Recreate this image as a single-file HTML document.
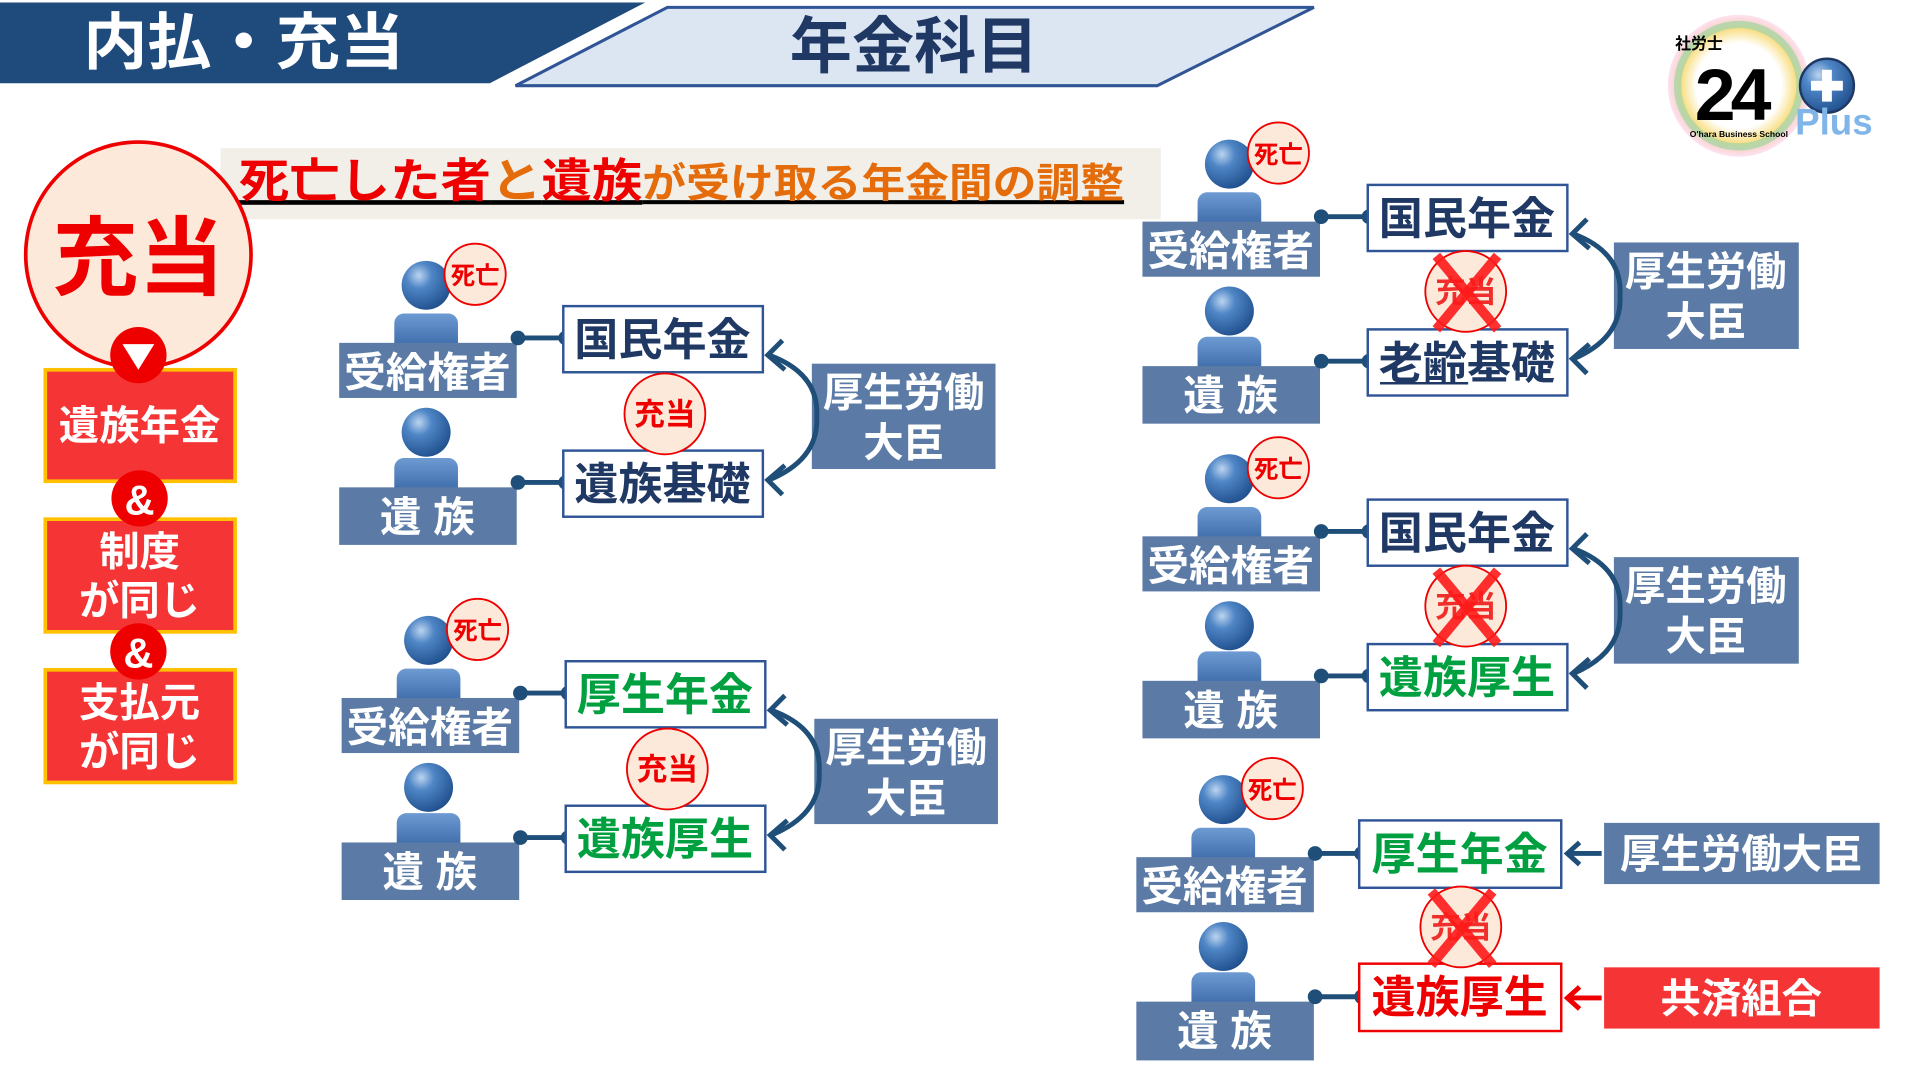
<!DOCTYPE html>
<html><head><meta charset="utf-8"><style>
html,body{margin:0;padding:0;background:#fff;width:1920px;height:1080px;overflow:hidden}
#c{position:absolute;left:0;top:0;width:1568px;height:882px;transform:scale(1.2245);transform-origin:0 0}
svg text{font-family:"Liberation Sans","Noto Sans CJK JP",sans-serif;font-weight:bold}
</style></head><body><div id="c">
<svg width="1568" height="882" viewBox="0 0 1568 882" xmlns="http://www.w3.org/2000/svg">
<defs>
<radialGradient id="hg" cx="0.35" cy="0.3" r="0.75"><stop offset="0" stop-color="#bcd4f0"/><stop offset="0.35" stop-color="#4f86c6"/><stop offset="1" stop-color="#1f4e8c"/></radialGradient>
<linearGradient id="bg" x1="0" y1="0" x2="0" y2="1"><stop offset="0" stop-color="#6f9bd3"/><stop offset="1" stop-color="#2f5f9e"/></linearGradient>
<radialGradient id="lg" cx="0.5" cy="0.5" r="0.5"><stop offset="0.6" stop-color="#fff"/><stop offset="0.8" stop-color="#f9e08a"/><stop offset="1" stop-color="#f6a5d0" stop-opacity="0.3"/></radialGradient>
</defs>
<!-- header -->
<polygon points="0,2 527,2 400,68 0,68" fill="#1f4a7c"/>
<text x="68" y="52" font-size="50" fill="#fff" textLength="262" lengthAdjust="spacingAndGlyphs">内払・充当</text>
<polygon points="545,6 1073,6 945,70 421,70" fill="#dce6f2" stroke="#2f5597" stroke-width="2.5"/>
<text x="645" y="55" font-size="50" fill="#1f3864" textLength="203" lengthAdjust="spacingAndGlyphs">年金科目</text>
<!-- logo -->
<circle cx="1420" cy="70" r="58" fill="url(#lg)"/>
<circle cx="1420" cy="70" r="50" fill="none" stroke="#8fd3a0" stroke-width="6" opacity="0.6"/>
<text x="1368" y="40" font-size="13" fill="#000">社労士</text>
<text x="1384" y="98" font-size="60" fill="#000" letter-spacing="-4">24</text>
<circle cx="1492" cy="70" r="22" fill="url(#hg)" stroke="#1f3864" stroke-width="2"/>
<rect x="1488" y="57" width="8" height="26" fill="#fff"/><rect x="1479" y="66" width="26" height="8" fill="#fff"/>
<text x="1466" y="110" font-size="30" fill="#7fb5e8" font-weight="normal">Plus</text>
<text x="1380" y="112" font-size="7" fill="#000" font-weight="normal">O'hara Business School</text>
<!-- subtitle -->
<rect x="180" y="121" width="768" height="58" fill="#f2efe9"/>
<text x="195" y="161" font-size="38" text-decoration="underline" textLength="723" lengthAdjust="spacingAndGlyphs"><tspan fill="#ee0000">死亡した者</tspan><tspan fill="#e46c0a">と</tspan><tspan fill="#ee0000">遺族</tspan><tspan fill="#e46c0a" font-size="33">が受け取る年金間の調整</tspan></text>
<!-- left column -->
<circle cx="113" cy="208" r="92" fill="#fde9d9" stroke="#ee0000" stroke-width="3"/>
<text x="113" y="235" font-size="70" fill="#ee0000" text-anchor="middle">充当</text>
<rect x="37" y="302" width="155" height="91" fill="#f53535" stroke="#ffc000" stroke-width="3"/>
<text x="114" y="359" font-size="33" fill="#fff" text-anchor="middle">遺族年金</text>
<rect x="37" y="424" width="155" height="92" fill="#f53535" stroke="#ffc000" stroke-width="3"/>
<text x="114" y="462" font-size="33" fill="#fff" text-anchor="middle">制度</text>
<text x="114" y="502" font-size="33" fill="#fff" text-anchor="middle">が同じ</text>
<rect x="37" y="547" width="155" height="92" fill="#f53535" stroke="#ffc000" stroke-width="3"/>
<text x="114" y="585" font-size="33" fill="#fff" text-anchor="middle">支払元</text>
<text x="114" y="625" font-size="33" fill="#fff" text-anchor="middle">が同じ</text>
<circle cx="113" cy="290" r="23" fill="#ee0000"/>
<polygon points="100,281 126,281 113,302" fill="#fff"/>
<circle cx="114" cy="407" r="23" fill="#ee0000"/>
<text x="114" y="420" font-size="34" fill="#fff" text-anchor="middle">&amp;</text>
<circle cx="113" cy="532" r="23" fill="#ee0000"/>
<text x="113" y="545" font-size="34" fill="#fff" text-anchor="middle">&amp;</text>

<!-- Group 1 -->
<g transform="translate(277,250)">
<circle cx="71" cy="-17" r="20" fill="url(#hg)"/><rect x="45" y="6" width="52" height="34" rx="8" fill="url(#bg)"/>
<rect x="0" y="30" width="145" height="45" fill="#5b7ba6"/><text x="72" y="66" font-size="34" fill="#fff" text-anchor="middle">受給権者</text>
<circle cx="111" cy="-26" r="25" fill="#fde9d9" stroke="#ee0000" stroke-width="1.5"/><text x="111" y="-18" font-size="20" fill="#ee0000" text-anchor="middle">死亡</text>
<circle cx="71" cy="103" r="20" fill="url(#hg)"/><rect x="45" y="124" width="52" height="34" rx="8" fill="url(#bg)"/>
<rect x="0" y="148" width="145" height="47" fill="#5b7ba6"/><text x="72" y="184" font-size="34" fill="#fff" text-anchor="middle">遺 族</text>
<line x1="146" y1="26" x2="185" y2="26" stroke="#1f4e79" stroke-width="4"/><circle cx="146" cy="26" r="6" fill="#1f4e79"/><circle cx="185" cy="26" r="6" fill="#1f4e79"/>
<line x1="146" y1="144" x2="185" y2="144" stroke="#1f4e79" stroke-width="4"/><circle cx="146" cy="144" r="6" fill="#1f4e79"/><circle cx="185" cy="144" r="6" fill="#1f4e79"/>
<rect x="183" y="0" width="163" height="54" fill="#fff" stroke="#2f5597" stroke-width="2"/><text x="264" y="40" font-size="36" fill="#1f3864" text-anchor="middle">国民年金</text>
<rect x="183" y="118" width="163" height="54" fill="#fff" stroke="#2f5597" stroke-width="2"/><text x="264" y="158" font-size="36" fill="#1f3864" text-anchor="middle">遺族基礎</text>
<circle cx="266" cy="88" r="33" fill="#fde9d9" stroke="#ee0000" stroke-width="1.5"/><text x="266" y="97" font-size="25" fill="#ee0000" text-anchor="middle">充当</text>
<rect x="386" y="47" width="150" height="86" fill="#5b7ba6"/><text x="461" y="82" font-size="33" fill="#fff" text-anchor="middle">厚生労働</text><text x="461" y="123" font-size="33" fill="#fff" text-anchor="middle">大臣</text>
<path d="M351,40 Q392,55 390,90 Q392,125 351,142" stroke="#1f4e79" stroke-width="4" fill="none"/>
<polyline points="362,28 350,40 364,52" stroke="#1f4e79" stroke-width="4" fill="none"/><polyline points="364,130 350,142 362,154" stroke="#1f4e79" stroke-width="4" fill="none"/>
</g>

<!-- Group 2 -->
<g transform="translate(279,540)">
<circle cx="71" cy="-17" r="20" fill="url(#hg)"/><rect x="45" y="6" width="52" height="34" rx="8" fill="url(#bg)"/>
<rect x="0" y="30" width="145" height="45" fill="#5b7ba6"/><text x="72" y="66" font-size="34" fill="#fff" text-anchor="middle">受給権者</text>
<circle cx="111" cy="-26" r="25" fill="#fde9d9" stroke="#ee0000" stroke-width="1.5"/><text x="111" y="-18" font-size="20" fill="#ee0000" text-anchor="middle">死亡</text>
<circle cx="71" cy="103" r="20" fill="url(#hg)"/><rect x="45" y="124" width="52" height="34" rx="8" fill="url(#bg)"/>
<rect x="0" y="148" width="145" height="47" fill="#5b7ba6"/><text x="72" y="184" font-size="34" fill="#fff" text-anchor="middle">遺 族</text>
<line x1="146" y1="26" x2="185" y2="26" stroke="#1f4e79" stroke-width="4"/><circle cx="146" cy="26" r="6" fill="#1f4e79"/><circle cx="185" cy="26" r="6" fill="#1f4e79"/>
<line x1="146" y1="144" x2="185" y2="144" stroke="#1f4e79" stroke-width="4"/><circle cx="146" cy="144" r="6" fill="#1f4e79"/><circle cx="185" cy="144" r="6" fill="#1f4e79"/>
<rect x="183" y="0" width="163" height="54" fill="#fff" stroke="#2f5597" stroke-width="2"/><text x="264" y="40" font-size="36" fill="#00a040" text-anchor="middle">厚生年金</text>
<rect x="183" y="118" width="163" height="54" fill="#fff" stroke="#2f5597" stroke-width="2"/><text x="264" y="158" font-size="36" fill="#00a040" text-anchor="middle">遺族厚生</text>
<circle cx="266" cy="88" r="33" fill="#fde9d9" stroke="#ee0000" stroke-width="1.5"/><text x="266" y="97" font-size="25" fill="#ee0000" text-anchor="middle">充当</text>
<rect x="386" y="47" width="150" height="86" fill="#5b7ba6"/><text x="461" y="82" font-size="33" fill="#fff" text-anchor="middle">厚生労働</text><text x="461" y="123" font-size="33" fill="#fff" text-anchor="middle">大臣</text>
<path d="M351,40 Q392,55 390,90 Q392,125 351,142" stroke="#1f4e79" stroke-width="4" fill="none"/>
<polyline points="362,28 350,40 364,52" stroke="#1f4e79" stroke-width="4" fill="none"/><polyline points="364,130 350,142 362,154" stroke="#1f4e79" stroke-width="4" fill="none"/>
</g>

<!-- Group 3 -->
<g transform="translate(933,151)">
<circle cx="71" cy="-17" r="20" fill="url(#hg)"/><rect x="45" y="6" width="52" height="34" rx="8" fill="url(#bg)"/>
<rect x="0" y="30" width="145" height="45" fill="#5b7ba6"/><text x="72" y="66" font-size="34" fill="#fff" text-anchor="middle">受給権者</text>
<circle cx="111" cy="-26" r="25" fill="#fde9d9" stroke="#ee0000" stroke-width="1.5"/><text x="111" y="-18" font-size="20" fill="#ee0000" text-anchor="middle">死亡</text>
<circle cx="71" cy="103" r="20" fill="url(#hg)"/><rect x="45" y="124" width="52" height="34" rx="8" fill="url(#bg)"/>
<rect x="0" y="148" width="145" height="47" fill="#5b7ba6"/><text x="72" y="184" font-size="34" fill="#fff" text-anchor="middle">遺 族</text>
<line x1="146" y1="26" x2="185" y2="26" stroke="#1f4e79" stroke-width="4"/><circle cx="146" cy="26" r="6" fill="#1f4e79"/><circle cx="185" cy="26" r="6" fill="#1f4e79"/>
<line x1="146" y1="144" x2="185" y2="144" stroke="#1f4e79" stroke-width="4"/><circle cx="146" cy="144" r="6" fill="#1f4e79"/><circle cx="185" cy="144" r="6" fill="#1f4e79"/>
<rect x="184" y="0" width="163" height="54" fill="#fff" stroke="#2f5597" stroke-width="2"/><text x="265" y="40" font-size="36" fill="#1f3864" text-anchor="middle">国民年金</text>
<rect x="184" y="118" width="163" height="54" fill="#fff" stroke="#2f5597" stroke-width="2"/><text x="265" y="158" font-size="36" fill="#1f3864" text-anchor="middle">老齢基礎</text>
<line x1="194" y1="162" x2="266" y2="162" stroke="#1f3864" stroke-width="2"/>
<circle cx="264" cy="87" r="33" fill="#fde9d9" stroke="#ee0000" stroke-width="1.5"/><text x="264" y="96" font-size="25" fill="#ee0000" text-anchor="middle" opacity="0.8">充当</text>
<line x1="240" y1="58" x2="290" y2="118" stroke="#ff1a1a" stroke-width="8" opacity="0.9"/><line x1="290" y1="58" x2="240" y2="118" stroke="#ff1a1a" stroke-width="8" opacity="0.9"/>
<rect x="385" y="47" width="151" height="87" fill="#5b7ba6"/><text x="460" y="82" font-size="33" fill="#fff" text-anchor="middle">厚生労働</text><text x="460" y="123" font-size="33" fill="#fff" text-anchor="middle">大臣</text>
<path d="M352,40 Q392,55 390,90 Q392,125 352,142" stroke="#1f4e79" stroke-width="4" fill="none"/>
<polyline points="363,28 351,40 365,52" stroke="#1f4e79" stroke-width="4" fill="none"/><polyline points="365,130 351,142 363,154" stroke="#1f4e79" stroke-width="4" fill="none"/>
</g>

<!-- Group 4 -->
<g transform="translate(933,408)">
<circle cx="71" cy="-17" r="20" fill="url(#hg)"/><rect x="45" y="6" width="52" height="34" rx="8" fill="url(#bg)"/>
<rect x="0" y="30" width="145" height="45" fill="#5b7ba6"/><text x="72" y="66" font-size="34" fill="#fff" text-anchor="middle">受給権者</text>
<circle cx="111" cy="-26" r="25" fill="#fde9d9" stroke="#ee0000" stroke-width="1.5"/><text x="111" y="-18" font-size="20" fill="#ee0000" text-anchor="middle">死亡</text>
<circle cx="71" cy="103" r="20" fill="url(#hg)"/><rect x="45" y="124" width="52" height="34" rx="8" fill="url(#bg)"/>
<rect x="0" y="148" width="145" height="47" fill="#5b7ba6"/><text x="72" y="184" font-size="34" fill="#fff" text-anchor="middle">遺 族</text>
<line x1="146" y1="26" x2="185" y2="26" stroke="#1f4e79" stroke-width="4"/><circle cx="146" cy="26" r="6" fill="#1f4e79"/><circle cx="185" cy="26" r="6" fill="#1f4e79"/>
<line x1="146" y1="144" x2="185" y2="144" stroke="#1f4e79" stroke-width="4"/><circle cx="146" cy="144" r="6" fill="#1f4e79"/><circle cx="185" cy="144" r="6" fill="#1f4e79"/>
<rect x="184" y="0" width="163" height="54" fill="#fff" stroke="#2f5597" stroke-width="2"/><text x="265" y="40" font-size="36" fill="#1f3864" text-anchor="middle">国民年金</text>
<rect x="184" y="118" width="163" height="54" fill="#fff" stroke="#2f5597" stroke-width="2"/><text x="265" y="158" font-size="36" fill="#00a040" text-anchor="middle">遺族厚生</text>
<circle cx="264" cy="87" r="33" fill="#fde9d9" stroke="#ee0000" stroke-width="1.5"/><text x="264" y="96" font-size="25" fill="#ee0000" text-anchor="middle" opacity="0.8">充当</text>
<line x1="240" y1="58" x2="290" y2="118" stroke="#ff1a1a" stroke-width="8" opacity="0.9"/><line x1="290" y1="58" x2="240" y2="118" stroke="#ff1a1a" stroke-width="8" opacity="0.9"/>
<rect x="385" y="47" width="151" height="87" fill="#5b7ba6"/><text x="460" y="82" font-size="33" fill="#fff" text-anchor="middle">厚生労働</text><text x="460" y="123" font-size="33" fill="#fff" text-anchor="middle">大臣</text>
<path d="M352,40 Q392,55 390,90 Q392,125 352,142" stroke="#1f4e79" stroke-width="4" fill="none"/>
<polyline points="363,28 351,40 365,52" stroke="#1f4e79" stroke-width="4" fill="none"/><polyline points="365,130 351,142 363,154" stroke="#1f4e79" stroke-width="4" fill="none"/>
</g>

<!-- Group 5 -->
<g transform="translate(928,670)">
<circle cx="71" cy="-17" r="20" fill="url(#hg)"/><rect x="45" y="6" width="52" height="34" rx="8" fill="url(#bg)"/>
<rect x="0" y="30" width="145" height="45" fill="#5b7ba6"/><text x="72" y="66" font-size="34" fill="#fff" text-anchor="middle">受給権者</text>
<circle cx="111" cy="-26" r="25" fill="#fde9d9" stroke="#ee0000" stroke-width="1.5"/><text x="111" y="-18" font-size="20" fill="#ee0000" text-anchor="middle">死亡</text>
<circle cx="71" cy="103" r="20" fill="url(#hg)"/><rect x="45" y="124" width="52" height="34" rx="8" fill="url(#bg)"/>
<rect x="0" y="148" width="145" height="48" fill="#5b7ba6"/><text x="72" y="184" font-size="34" fill="#fff" text-anchor="middle">遺 族</text>
<line x1="146" y1="27" x2="184" y2="27" stroke="#1f4e79" stroke-width="4"/><circle cx="146" cy="27" r="6" fill="#1f4e79"/><circle cx="184" cy="27" r="6" fill="#1f4e79"/>
<line x1="146" y1="144" x2="184" y2="144" stroke="#1f4e79" stroke-width="4"/><circle cx="146" cy="144" r="6" fill="#1f4e79"/><circle cx="184" cy="144" r="6" fill="#1f4e79"/>
<rect x="182" y="0" width="165" height="55" fill="#fff" stroke="#2f5597" stroke-width="2"/><text x="264" y="40" font-size="36" fill="#00a040" text-anchor="middle">厚生年金</text>
<rect x="182" y="117" width="165" height="55" fill="#fff" stroke="#ee0000" stroke-width="2"/><text x="264" y="157" font-size="36" fill="#ee0000" text-anchor="middle">遺族厚生</text>
<circle cx="265" cy="87" r="33" fill="#fde9d9" stroke="#ee0000" stroke-width="1.5"/><text x="265" y="96" font-size="25" fill="#ee0000" text-anchor="middle" opacity="0.8">充当</text>
<line x1="241" y1="58" x2="291" y2="118" stroke="#ff1a1a" stroke-width="8" opacity="0.9"/><line x1="291" y1="58" x2="241" y2="118" stroke="#ff1a1a" stroke-width="8" opacity="0.9"/>
</g>
<rect x="1310" y="672" width="225" height="50" fill="#5b7ba6"/><text x="1422" y="709" font-size="33" fill="#fff" text-anchor="middle">厚生労働大臣</text>
<rect x="1310" y="790" width="225" height="50" fill="#f53535"/><text x="1422" y="827" font-size="33" fill="#fff" text-anchor="middle">共済組合</text>
<line x1="1308" y1="697" x2="1281" y2="697" stroke="#1f4e79" stroke-width="4"/><polyline points="1290,688 1280,697 1290,706" stroke="#1f4e79" stroke-width="4" fill="none"/>
<line x1="1308" y1="815" x2="1281" y2="815" stroke="#ee0000" stroke-width="4"/><polyline points="1290,806 1280,815 1290,824" stroke="#ee0000" stroke-width="4" fill="none"/>
</svg>
</div></body></html>
